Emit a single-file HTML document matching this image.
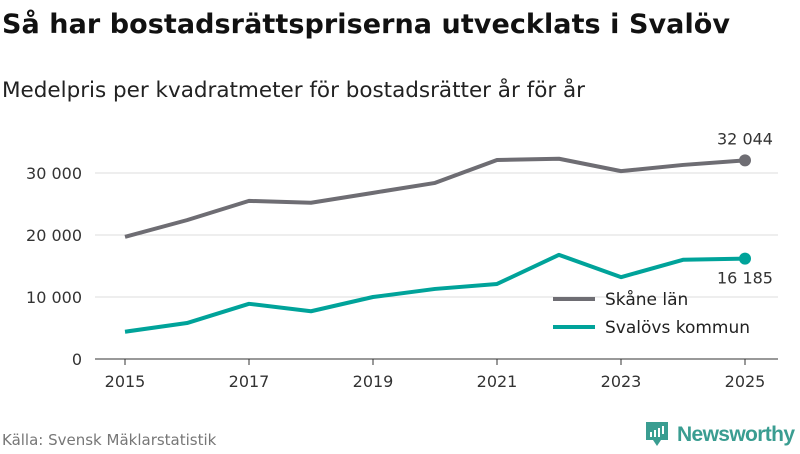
<!DOCTYPE html>
<html><head><meta charset="utf-8"><style>
body{margin:0;width:800px;height:450px;background:#fff;font-family:"DejaVu Sans","Liberation Sans",sans-serif;overflow:hidden}
</style></head><body>
<svg width="800" height="450">
<text x="2" y="33" font-size="27" font-weight="bold" fill="#111" textLength="728">Så har bostadsrättspriserna utvecklats i Svalöv</text>
<text x="2" y="97" font-size="21.5" fill="#222" textLength="583">Medelpris per kvadratmeter för bostadsrätter år för år</text>
<g id="grid"></g><g id="lines"></g>
<g>
<line x1="553" y1="299" x2="595" y2="299" stroke="#6e6d73" stroke-width="4"/>
<text x="605" y="305" font-size="17" fill="#222">Skåne län</text>
<line x1="553" y1="327" x2="595" y2="327" stroke="#00a39a" stroke-width="4"/>
<text x="605" y="333" font-size="17" fill="#222">Svalövs kommun</text>
</g>
<text x="2" y="445" font-size="15" fill="#777">Källa: Svensk Mäklarstatistik</text>
<g>
<path d="M646 422h22v18h-7l-4 6-4-6h-7z" fill="#3a9d91"/>
<rect x="650" y="432" width="2" height="5" fill="#fff"/><rect x="654" y="430" width="2" height="7" fill="#fff"/><rect x="658" y="428" width="2" height="9" fill="#fff"/><rect x="662" y="426" width="2" height="8" fill="#fff"/>
<text x="677" y="441" font-size="21" fill="#3a9d91" font-weight="bold" font-family="Liberation Sans, sans-serif" textLength="118">Newsworthy</text>
</g>
</svg>
<script>
const years=[2015,2016,2017,2018,2019,2020,2021,2022,2023,2024,2025];
const skane=[19700,22400,25500,25200,26800,28400,32100,32300,30300,31300,32044];
const svalov=[4400,5800,8900,7700,10000,11300,12100,16800,13200,16000,16185];
const yTicks=[0,10000,20000,30000];
const yTickLabels=["0","10 000","20 000","30 000"];
const xTicks=[2015,2017,2019,2021,2023,2025];
const NS="http://www.w3.org/2000/svg";
const x=v=>125+(v-2015)*62;
const y=v=>359-v*0.0062;
function mk(t,a,p){const e=document.createElementNS(NS,t);for(const k in a)e.setAttribute(k,a[k]);p.appendChild(e);return e;}
const g=document.getElementById('grid'),L=document.getElementById('lines');
yTicks.forEach((t,i)=>{
 const ln=mk('line',{x1:95,x2:778,y1:y(t),y2:y(t),stroke:t===0?'#333':'#ddd','stroke-width':1},g);
 
 
 const tx=mk('text',{x:82,y:y(t)+6,'text-anchor':'end','font-size':16,fill:'#333'},g);tx.textContent=yTickLabels[i];
 
 
});
xTicks.forEach(t=>{
 const tk=mk('line',{x1:x(t),x2:x(t),y1:359,y2:365,stroke:'#333'},g);
 
 
 const tx=mk('text',{x:x(t),y:387,'text-anchor':'middle','font-size':16,fill:'#333'},g);tx.textContent=t;
 
 
});
function series(d,c,name){
 const p=mk('polyline',{points:d.map((v,i)=>x(years[i])+','+y(v)).join(' '),fill:'none',stroke:c,'stroke-width':4,'stroke-linejoin':'round'},L);
 
 
 const n=d.length-1;
 const dot=mk('circle',{cx:x(years[n]),cy:y(d[n]),r:6,fill:c},L);
 
 
}
series(skane,'#6e6d73','skane');
series(svalov,'#00a39a','svalov');
const fmt=v=>String(v).replace(/\B(?=(\d{3})+(?!\d))/g,' ');
const l1=mk('text',{x:x(2025),y:y(skane[10])-16,'text-anchor':'middle','font-size':16,fill:'#333'},L);l1.textContent=fmt(skane[10]);


const l2=mk('text',{x:x(2025),y:y(svalov[10])+25,'text-anchor':'middle','font-size':16,fill:'#333'},L);l2.textContent=fmt(svalov[10]);


</script>
</body></html>
